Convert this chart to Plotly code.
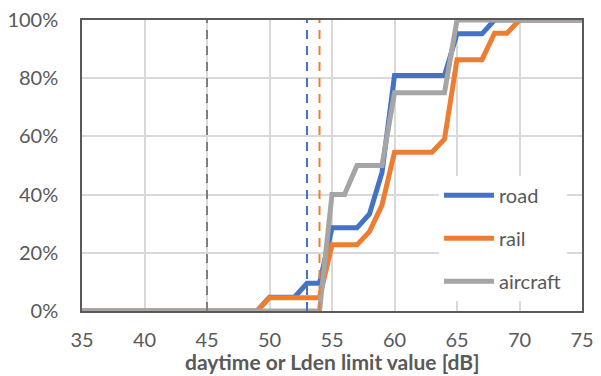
import plotly.graph_objects as go

db = [35, 36, 37, 38, 39, 40, 41, 42, 43, 44, 45, 46, 47, 48, 49, 50, 51, 52, 53, 54,
      55, 56, 57, 58, 59, 60, 61, 62, 63, 64, 65, 66, 67, 68, 69, 70, 71, 72, 73, 74, 75]

road = [0, 0, 0, 0, 0, 0, 0, 0, 0, 0, 0, 0, 0, 0, 0, 0.0476, 0.0476, 0.0476, 0.0952, 0.0952,
        0.2857, 0.2857, 0.2857, 0.3333, 0.4762, 0.8095, 0.8095, 0.8095, 0.8095, 0.8095,
        0.9524, 0.9524, 0.9524, 1, 1, 1, 1, 1, 1, 1, 1]

rail = [0, 0, 0, 0, 0, 0, 0, 0, 0, 0, 0, 0, 0, 0, 0, 0.0455, 0.0455, 0.0455, 0.0455, 0.0455,
        0.2273, 0.2273, 0.2273, 0.2727, 0.3636, 0.5455, 0.5455, 0.5455, 0.5455, 0.5909,
        0.8636, 0.8636, 0.8636, 0.9545, 0.9545, 1, 1, 1, 1, 1, 1]

aircraft = [0, 0, 0, 0, 0, 0, 0, 0, 0, 0, 0, 0, 0, 0, 0, 0, 0, 0, 0, 0,
            0.40, 0.40, 0.50, 0.50, 0.50, 0.75, 0.75, 0.75, 0.75, 0.75,
            1, 1, 1, 1, 1, 1, 1, 1, 1, 1, 1]

series_names = ["road", "rail", "aircraft"]
series_colors = ["#4472C4", "#ED7D31", "#A5A5A5"]

limit_values = [45, 53, 54]
limit_colors = ["#7F7F7F", "#4472C4", "#ED7D31"]

x_ticks = [35, 40, 45, 50, 55, 60, 65, 70, 75]
y_ticks = [0, 0.2, 0.4, 0.6, 0.8, 1.0]
y_ticklabels = ["0%", "20%", "40%", "60%", "80%", "100%"]
x_title = "daytime or Lden limit value [dB]"

FONT = "Lato"
TXT = "#595959"

fig = go.Figure()
for name, vals, col in zip(series_names, [road, rail, aircraft], series_colors):
    fig.add_trace(go.Scatter(x=db, y=vals, mode="lines", name=name,
                             line=dict(color=col, width=5), legendgroup=name))

for v, col in zip(limit_values, limit_colors):
    fig.add_trace(go.Scatter(x=[v, v], y=[0, 1], mode="lines", showlegend=False,
                             line=dict(color=col, width=2, dash="9px,7px"),
                             hoverinfo="skip"))

fig.add_annotation(text="<b>" + x_title + "</b>", xref="paper", yref="paper",
                   x=0.5, y=-0.175, xanchor="center", yanchor="middle",
                   showarrow=False, font=dict(family=FONT, size=21, color=TXT))

fig.update_layout(
    width=601, height=376,
    margin=dict(l=74, r=27, t=12, b=73),
    paper_bgcolor="white", plot_bgcolor="white",
    font=dict(family=FONT, size=20, color=TXT),
    showlegend=True,
    legend=dict(x=0.714, y=0.465, xanchor="left", yanchor="top",
                bgcolor="white", borderwidth=0,
                font=dict(family=FONT, size=20, color=TXT),
                tracegroupgap=14, itemwidth=50),
    xaxis=dict(range=[35, 75], tickvals=x_ticks, ticktext=[str(t) for t in x_ticks],
               showgrid=True, gridcolor="#D9D9D9", gridwidth=1.5,
               showline=True, linecolor="#595959", linewidth=1.5, mirror=True,
               zeroline=False, ticks="", ticklabelstandoff=10, automargin=False,
               ticklabeloverflow="allow"),
    yaxis=dict(range=[0, 1], tickvals=y_ticks, ticktext=y_ticklabels,
               showgrid=True, gridcolor="#D9D9D9", gridwidth=1.5,
               showline=True, linecolor="#595959", linewidth=1.5, mirror=True,
               zeroline=False, ticks="", ticklabelstandoff=18, automargin=False,
               ticklabeloverflow="allow"),
)

fig.write_html("out.html")
